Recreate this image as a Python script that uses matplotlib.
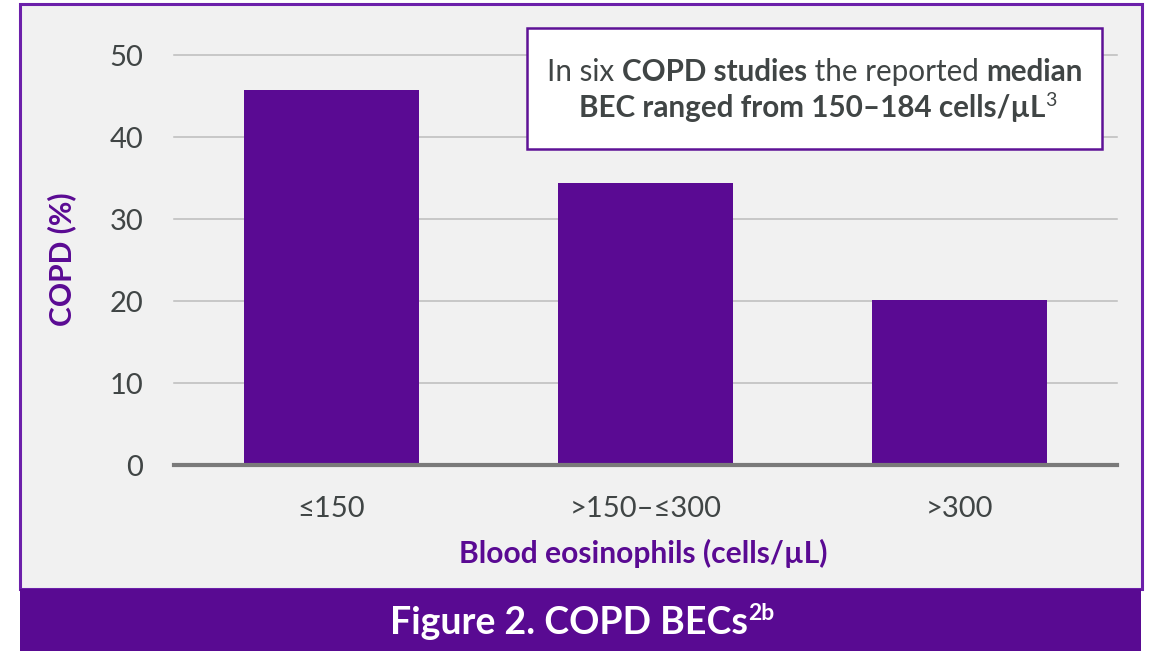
import matplotlib
matplotlib.use("Agg")
import matplotlib.pyplot as plt
from matplotlib.patches import Rectangle

categories = ["≤150", ">150–≤300", ">300"]
copd_pct = [45.7, 34.4, 20.1]
yticks = [0, 10, 20, 30, 40, 50]

W, H = 1150, 651
PURPLE = "#5a0a93"
BORDER = "#6c20aa"
GRAY_TXT = "#404545"
FONT = "Lato"

plt.rcParams['font.family'] = [FONT, 'DejaVu Sans']

fig = plt.figure(figsize=(W / 100, H / 100), dpi=100)
fig.patch.set_facecolor("white")

def fx(x):
    return x / W

def fy(y):
    return 1 - y / H

# outer frame
fig.patches.append(Rectangle((fx(20), fy(589)), fx(1142) - fx(20), fy(4) - fy(589),
                             transform=fig.transFigure, facecolor="#f1f1f1",
                             edgecolor=BORDER, lw=2.2, zorder=-2))
# bottom banner
fig.patches.append(Rectangle((fx(20), fy(651)), fx(1141) - fx(20), fy(589) - fy(651),
                             transform=fig.transFigure, facecolor="#590a92",
                             edgecolor="none", zorder=1))

ax = fig.add_axes([fx(174), fy(465), fx(1117) - fx(174), fy(55) - fy(465)])
ax.set_facecolor("none")
x = range(len(categories))
ax.bar(x, copd_pct, width=0.557, color=PURPLE, zorder=3)
ax.set_xlim(-0.5, 2.5)
ax.set_ylim(0, 50)
ax.set_yticks(yticks)
ax.set_yticklabels([str(t) for t in yticks])
ax.set_xticks(list(x))
ax.set_xticklabels(categories)
for s in ["top", "right", "left"]:
    ax.spines[s].set_visible(False)
ax.spines["bottom"].set_color("#7a7a7a")
ax.spines["bottom"].set_linewidth(3)
ax.spines["bottom"].set_zorder(4)
ax.grid(axis="y", color="#bcbcbc", lw=1.1, zorder=1)
ax.set_axisbelow(True)
ax.tick_params(axis="y", length=0, pad=22, labelsize=21, labelcolor=GRAY_TXT)
ax.tick_params(axis="x", length=0, pad=22, labelsize=21, labelcolor=GRAY_TXT)
for ln in ax.get_ygridlines():
    ln.set_clip_on(False)

fig.text(fx(643), fy(553), "Blood eosinophils (cells/µL)", fontsize=21.6, fontweight="bold",
         color=PURPLE, ha="center", va="center")
fig.text(fx(62), fy(259), "COPD (%)", fontsize=21.6, fontweight="bold", color=PURPLE,
         ha="center", va="center", rotation=90)

# annotation box
fig.patches.append(Rectangle((fx(527), fy(149)), fx(1102) - fx(527), fy(28) - fy(149),
                             transform=fig.transFigure, facecolor="white",
                             edgecolor="#5e1296", lw=1.8, zorder=5))

def rich_line(parts, cx, cy, color):
    texts = []
    for s, w, sz, dy in parts:
        t = fig.text(0, 0, s, fontsize=sz, fontweight=w, color=color,
                     va="baseline", ha="left", transform=None, zorder=6)
        texts.append((t, dy))
    fig.canvas.draw()
    r = fig.canvas.get_renderer()
    widths = [t.get_window_extent(r).width for t, _ in texts]
    total = sum(widths)
    xpos = cx - total / 2
    for (t, dy), wd in zip(texts, widths):
        t.set_position((xpos, H - cy + dy))
        xpos += wd
    return texts

rich_line([("In six ", "normal", 21.3, 0), ("COPD studies", "bold", 21.3, 0),
           (" the reported ", "normal", 21.3, 0), ("median", "bold", 21.3, 0)],
          815, 81, GRAY_TXT)
rich_line([("BEC ranged from 150–184 cells/µL", "bold", 21.3, 0), ("3", "normal", 14, 11)],
          818, 117, GRAY_TXT)

rich_line([("Figure 2. COPD BECs", "bold", 27, 0), ("2b", "bold", 16.5, 14)],
          582, 634, "white")

fig.savefig("out.png", dpi=100)
